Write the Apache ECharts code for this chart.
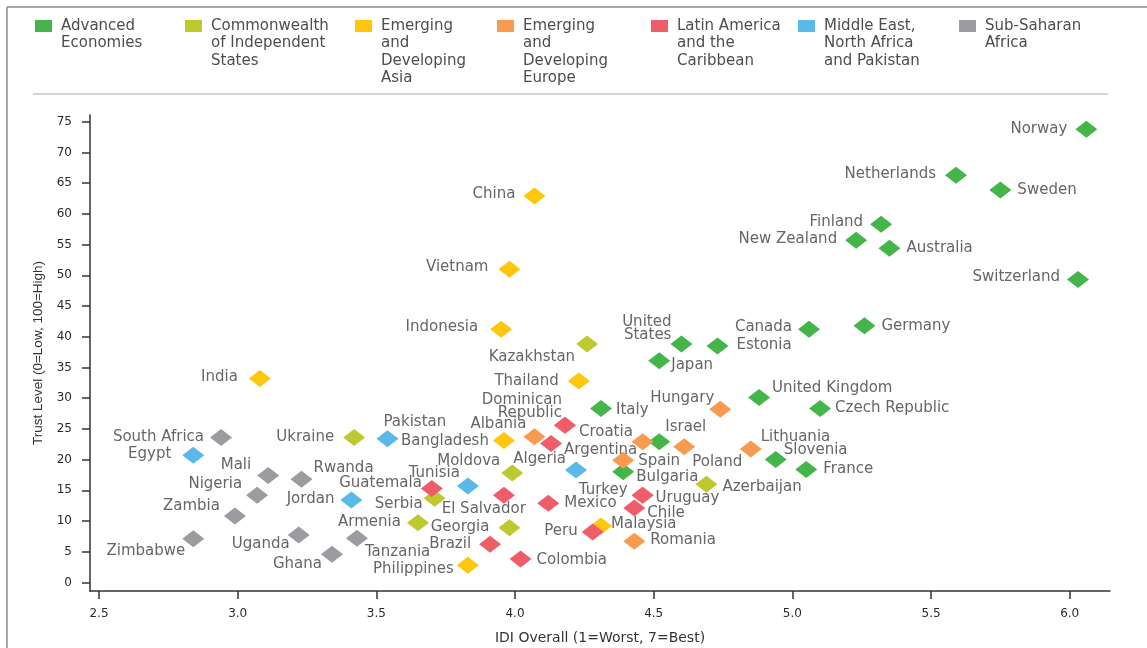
<!DOCTYPE html>
<html>
<head>
<meta charset="utf-8">
<script src="https://cdn.jsdelivr.net/npm/echarts@6/dist/echarts.min.js"></script>
<style>html,body{margin:0;padding:0;background:#fff;}#chart{width:1147px;height:648px;}</style>
</head>
<body>
<div id="chart"></div>
<script>
// ---------------- DATA ----------------
const groupNames = ['Advanced Economies', 'Commonwealth of Independent States', 'Emerging and Developing Asia',
  'Emerging and Developing Europe', 'Latin America and the Caribbean', 'Middle East, North Africa and Pakistan', 'Sub-Saharan Africa'];

const advancedNames = ['Norway', 'Netherlands', 'Sweden', 'Finland', 'New Zealand', 'Australia', 'Switzerland', 'Canada', 'Germany',
  'Estonia', 'United States', 'Japan', 'United Kingdom', 'Czech Republic', 'Italy', 'Israel', 'Slovenia', 'France', 'Bulgaria'];
const advancedIDI = [6.06, 5.59, 5.75, 5.32, 5.23, 5.35, 6.03, 5.06, 5.26, 4.73, 4.60, 4.52, 4.88, 5.10, 4.31, 4.52, 4.94, 5.05, 4.39];
const advancedTrust = [73.8, 66.3, 63.9, 58.3, 55.7, 54.4, 49.3, 41.2, 41.8, 38.5, 38.8, 36.1, 30.1, 28.3, 28.3, 22.9, 20.0, 18.4, 18.0];

const cisNames = ['Kazakhstan', 'Ukraine', 'Moldova', 'Serbia', 'Armenia', 'Georgia', 'Azerbaijan'];
const cisIDI = [4.26, 3.42, 3.99, 3.71, 3.65, 3.98, 4.69];
const cisTrust = [38.8, 23.6, 17.8, 13.7, 9.7, 8.9, 16.0];

const asiaNames = ['China', 'Vietnam', 'Indonesia', 'Thailand', 'India', 'Bangladesh', 'Malaysia', 'Philippines'];
const asiaIDI = [4.07, 3.98, 3.95, 4.23, 3.08, 3.96, 4.31, 3.83];
const asiaTrust = [62.9, 51.0, 41.2, 32.8, 33.2, 23.1, 9.2, 2.8];

const europeNames = ['Hungary', 'Albania', 'Croatia', '', 'Poland', 'Lithuania', 'Spain', 'Turkey', 'Romania'];
const europeIDI = [4.74, 4.07, 4.18, 4.46, 4.61, 4.85, 4.39, 4.46, 4.43];
const europeTrust = [28.2, 23.7, 25.6, 22.9, 22.1, 21.7, 19.9, 14.2, 6.7];

const latamNames = ['Dominican Republic', 'Argentina', 'Guatemala', 'El Salvador', 'Mexico', 'Uruguay', 'Chile', 'Peru', 'Brazil', 'Colombia'];
const latamIDI = [4.18, 4.13, 3.70, 3.96, 4.12, 4.46, 4.43, 4.28, 3.91, 4.02];
const latamTrust = [25.6, 22.6, 15.3, 14.2, 12.9, 14.2, 12.1, 8.2, 6.2, 3.8];

const menapNames = ['Egypt', 'Pakistan', 'Jordan', 'Tunisia', 'Algeria'];
const menapIDI = [2.84, 3.54, 3.41, 3.83, 4.22];
const menapTrust = [20.7, 23.4, 13.4, 15.7, 18.3];

const ssaNames = ['South Africa', 'Mali', 'Rwanda', 'Nigeria', 'Zambia', 'Zimbabwe', 'Uganda', 'Ghana', 'Tanzania'];
const ssaIDI = [2.94, 3.11, 3.23, 3.07, 2.99, 2.84, 3.22, 3.34, 3.43];
const ssaTrust = [23.6, 17.4, 16.8, 14.2, 10.8, 7.1, 7.7, 4.6, 7.2];

const xTicks = [2.5, 3.0, 3.5, 4.0, 4.5, 5.0, 5.5, 6.0];
const yTicks = [0, 5, 10, 15, 20, 25, 30, 35, 40, 45, 50, 55, 60, 65, 70, 75];

const xTitle = 'IDI Overall (1=Worst, 7=Best)';
const yTitle = 'Trust Level (0=Low, 100=High)';

const legendTexts = ['Advanced\nEconomies', 'Commonwealth\nof Independent\nStates', 'Emerging\nand\nDeveloping\nAsia',
  'Emerging\nand\nDeveloping\nEurope', 'Latin America\nand the\nCaribbean', 'Middle East,\nNorth Africa\nand Pakistan', 'Sub-Saharan\nAfrica'];
const multiLineLabels = { 'United States': 'United\nStates', 'Dominican Republic': 'Dominican\nRepublic' };

// ---------------- STYLE / LAYOUT ----------------
const colors = ['#44b549', '#bec92f', '#ffc60b', '#f89b50', '#ef5d6b', '#5ab9e8', '#9b9ba0'];
const legendLeft = [35, 185, 355, 497, 651, 798, 959];
const LEGEND_LINE = 17.5;
const FONT = 'DejaVu Sans';
// label placement: [dx, dy, align] relative to the marker centre
const labelPlace = {
  'Norway': [-19, 0, 'right'], 'Netherlands': [-20, -1, 'right'], 'Sweden': [17, 0, 'left'], 'Finland': [-18, -2, 'right'],
  'New Zealand': [-19, -1, 'right'], 'Australia': [17, 0, 'left'], 'Switzerland': [-18, -2, 'right'], 'Canada': [-17, -2, 'right'],
  'Germany': [17, 0, 'left'], 'Estonia': [19, -1, 'left'], 'United States': [-10, -15, 'right'], 'Japan': [12, 4, 'left'],
  'United Kingdom': [13, -9, 'left'], 'Czech Republic': [15, 0, 'left'], 'Italy': [15, 2, 'left'], 'Israel': [6, -15, 'left'],
  'Slovenia': [8, -9, 'left'], 'France': [17, 0, 'left'], 'Bulgaria': [13, 5, 'left'],
  'Hungary': [-6, -11, 'right'], 'Spain': [15, 1, 'left'], 'Poland': [8, 15, 'left'], 'Lithuania': [10, -12, 'left'],
  'Albania': [-8, -13, 'right'], 'Romania': [16, -1, 'left'], 'Croatia': [14, 7, 'left'], 'Turkey': [-15, -5, 'right'],
  'Dominican Republic': [-3, -19, 'right'], 'Argentina': [13, 7, 'left'], 'Guatemala': [-10, -5, 'right'],
  'El Salvador': [22, 14, 'right'], 'Mexico': [16, 0, 'left'], 'Uruguay': [13, 3, 'left'], 'Chile': [13, 5, 'left'],
  'Peru': [-15, -1, 'right'], 'Brazil': [-19, 0, 'right'], 'Colombia': [16, 1, 'left'],
  'China': [-19, -2, 'right'], 'Vietnam': [-21, -2, 'right'], 'Indonesia': [-23, -2, 'right'], 'Thailand': [-20, 0, 'right'],
  'India': [-22, -1, 'right'], 'Bangladesh': [-15, 1, 'right'], 'Malaysia': [10, -2, 'left'], 'Philippines': [-14, 4, 'right'],
  'Kazakhstan': [-12, 13, 'right'], 'Ukraine': [-20, 0, 'right'], 'Moldova': [-12, -12, 'right'], 'Serbia': [-12, 6, 'right'],
  'Armenia': [-17, -1, 'right'], 'Georgia': [-20, -1, 'right'], 'Azerbaijan': [16, 3, 'left'],
  'Egypt': [-22, -1, 'right'], 'Pakistan': [-4, -17, 'left'], 'Jordan': [-17, -1, 'right'], 'Tunisia': [-8, -13, 'right'],
  'Algeria': [-10, -11, 'right'],
  'South Africa': [-17, 0, 'right'], 'Mali': [-17, -10, 'right'], 'Rwanda': [12, -11, 'left'], 'Nigeria': [-15, -11, 'right'],
  'Zambia': [-15, -10, 'right'], 'Zimbabwe': [-8, 12, 'right'], 'Uganda': [-9, 9, 'right'], 'Ghana': [-10, 10, 'right'],
  'Tanzania': [8, 14, 'left']
};

function buildPoints(names, xs, ys) {
  return names.map(function (n, i) {
    const p = labelPlace[n];
    const item = { name: n, value: [xs[i], ys[i]] };
    if (p) {
      item.label = {
        show: true, position: 'inside', align: p[2], verticalAlign: 'middle', offset: [p[0], p[1]],
        formatter: multiLineLabels[n] || n,
        lineHeight: multiLineLabels[n] ? 13 : 17
      };
    } else {
      item.label = { show: false };
    }
    return item;
  });
}

const groupData = [
  buildPoints(advancedNames, advancedIDI, advancedTrust),
  buildPoints(cisNames, cisIDI, cisTrust),
  buildPoints(asiaNames, asiaIDI, asiaTrust),
  buildPoints(europeNames, europeIDI, europeTrust),
  buildPoints(latamNames, latamIDI, latamTrust),
  buildPoints(menapNames, menapIDI, menapTrust),
  buildPoints(ssaNames, ssaIDI, ssaTrust)
];

const chart = echarts.init(document.getElementById('chart'), null, { renderer: 'canvas' });

const series = groupNames.map(function (g, i) {
  return {
    name: g, type: 'scatter', symbol: 'diamond', symbolSize: [22, 17],
    itemStyle: { color: colors[i], opacity: 1 },
    label: { show: true, fontFamily: FONT, fontSize: 15, color: '#666666', textBorderWidth: 0, textBorderColor: 'rgba(0,0,0,0)' },
    emphasis: { disabled: true },
    data: groupData[i]
  };
});

// Legend swatch: a 17x12 square at the top of a box as tall as the text block,
// so that the swatch sits level with the first text line.
const legends = groupNames.map(function (g, i) {
  const lines = legendTexts[i].split('\n').length;
  const h = lines * LEGEND_LINE;
  const top0 = (LEGEND_LINE - 12) / 2;
  const iconPath = 'path://M0,' + top0 + 'L17,' + top0 + 'L17,' + (top0 + 12) + 'L0,' + (top0 + 12) + 'Z' +
    'M0,0L0.001,0M0,' + h + 'L0.001,' + h;
  return {
    data: [{ name: g, icon: iconPath }], left: legendLeft[i], top: 20 - top0, padding: 0,
    itemWidth: 17, itemHeight: h, itemGap: 0, symbolKeepAspect: false,
    selectedMode: false,
    formatter: function () { return legendTexts[i]; },
    textStyle: { fontFamily: FONT, fontSize: 15, color: '#4d4d4d', lineHeight: LEGEND_LINE, padding: [0, 0, 0, 4] }
  };
});

const option = {
  animation: false,
  backgroundColor: '#ffffff',
  textStyle: { fontFamily: FONT },
  legend: legends,
  grid: { left: 90, right: 37, top: 115, bottom: 57, containLabel: false, outerBoundsMode: 'none' },
  xAxis: {
    type: 'value', min: 2.4675, max: 6.1453,
    name: xTitle, nameLocation: 'middle', nameGap: 40,
    nameTextStyle: { fontFamily: FONT, fontSize: 14, color: '#333333' },
    splitLine: { show: false },
    axisLine: { onZero: false, lineStyle: { color: '#333333', width: 1.5 } },
    axisTick: { customValues: xTicks, length: 8, lineStyle: { color: '#333333', width: 1.5 } },
    axisLabel: { customValues: xTicks, formatter: function (v) { return v.toFixed(1); }, fontFamily: FONT, fontSize: 12, color: '#2a2a2a', margin: 17 }
  },
  yAxis: {
    type: 'value', min: -1.4, max: 76.1,
    name: yTitle, nameLocation: 'middle', nameGap: 45, nameRotate: 90,
    nameTextStyle: { fontFamily: 'Liberation Sans', fontSize: 13.5, color: '#333333' },
    splitLine: { show: false },
    axisLine: { onZero: false, lineStyle: { color: '#333333', width: 1.5 } },
    axisTick: { customValues: yTicks, length: 8, lineStyle: { color: '#333333', width: 1.5 } },
    axisLabel: { customValues: yTicks, fontFamily: FONT, fontSize: 12, color: '#2a2a2a', margin: 18 }
  },
  graphic: [
    { type: 'line', silent: true, shape: { x1: 7, y1: 7, x2: 1147, y2: 7 }, style: { stroke: '#8a8a8a', lineWidth: 1.5 } },
    { type: 'line', silent: true, shape: { x1: 7, y1: 7, x2: 7, y2: 648 }, style: { stroke: '#8a8a8a', lineWidth: 1.5 } },
    { type: 'line', silent: true, shape: { x1: 33, y1: 94, x2: 1108, y2: 94 }, style: { stroke: '#d4d4d4', lineWidth: 2 } }
  ],
  series: series
};

chart.setOption(option);
</script>
</body>
</html>
